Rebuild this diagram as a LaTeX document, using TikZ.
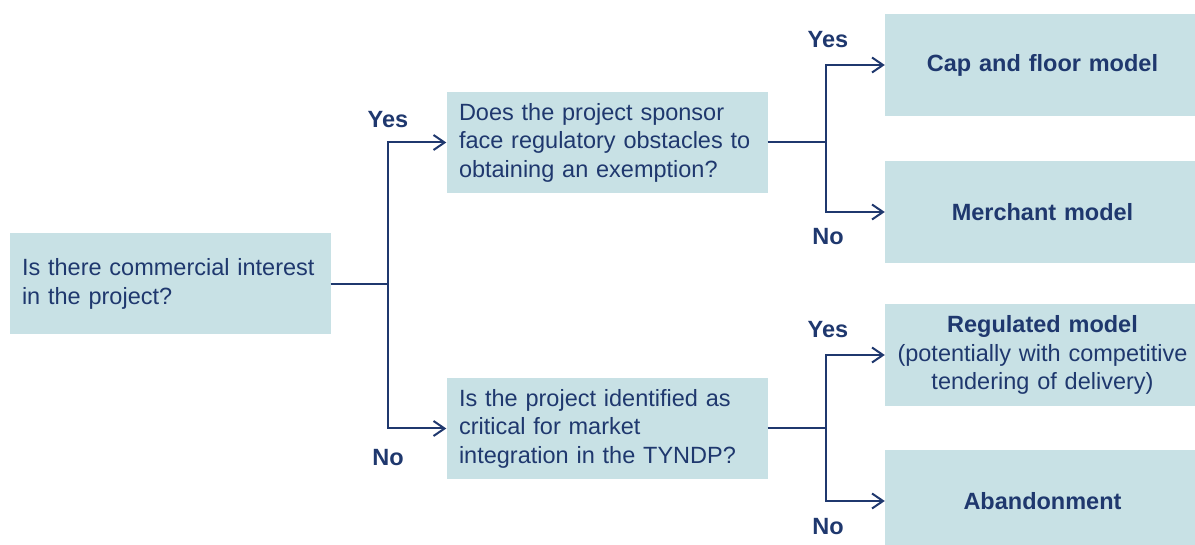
\documentclass[tikz,border=0pt]{standalone}
\usepackage{fontspec}
\setmainfont{Liberation Sans}[WordSpace=0.7]
\usetikzlibrary{arrows.meta}

\definecolor{boxfill}{RGB}{200,225,229}
\definecolor{navy}{RGB}{31,56,110}

\begin{document}
\begin{tikzpicture}[x=1pt,y=-1pt,
		every node/.style={text=navy,font=\fontsize{23.5}{28.5}\selectfont},
		question/.style={fill=boxfill,minimum width=321,minimum height=101,text width=296,inner xsep=12.5,align=left},
		outcome/.style={fill=boxfill,minimum width=315,minimum height=102,text width=300,align=center,font=\fontsize{23.5}{28.5}\selectfont\bfseries},
		answer/.style={font=\fontsize{23.5}{28.5}\selectfont\bfseries},
		branch/.style={draw=navy,line width=2},
		arr/.style={branch,-{Straight Barb[length=11,width=15,line width=2]}}]
			\useasboundingbox (0,0) rectangle (1195,545);
			% questions
			\node[question] (interest) at (170,284) {Is there commercial interest\\in the project?};
			\node[question] (sponsor) at (607,142.5) {Does the project sponsor\\face regulatory obstacles to\\obtaining an exemption?};
			\node[question] (critical) at (607,428.5) {Is the project identified as\\critical for market\\integration in the TYNDP?};
			% outcomes
			\node[outcome] (capfloor) at (1042.5,65) {Cap and floor model};
			\node[outcome] (merchant) at (1042.5,212) {Merchant model};
			\node[outcome] (regulated) at (1042.5,355) {Regulated model\\{\mdseries(potentially with competitive\\tendering of delivery)}};
			\node[outcome] (abandon) at (1042.5,501) {Abandonment};
			% branch points
			\coordinate (j1) at (388,284);
			\coordinate (j2) at (826,142.5);
			\coordinate (j3) at (826,428.5);
			\draw[branch] (interest.east) -- (j1);
			\draw[arr] (j1) |- (sponsor.west);
			\draw[arr] (j1) |- (critical.west);
			\draw[branch] (sponsor.east) -- (j2);
			\draw[arr] (j2) |- (capfloor.west);
			\draw[arr] (j2) |- (merchant.west);
			\draw[branch] (critical.east) -- (j3);
			\draw[arr] (j3) |- (regulated.west);
			\draw[arr] (j3) |- (abandon.west);
			% yes / no labels
			\node[answer] (yes1) at (388,120) {Yes};
			\node[answer] (no1) at (388,458) {No};
			\node[answer] (yes2) at (828,40) {Yes};
			\node[answer] (no2) at (828,237) {No};
			\node[answer] (yes3) at (828,330) {Yes};
			\node[answer] (no3) at (828,527) {No};
		\end{tikzpicture}
\end{document}
